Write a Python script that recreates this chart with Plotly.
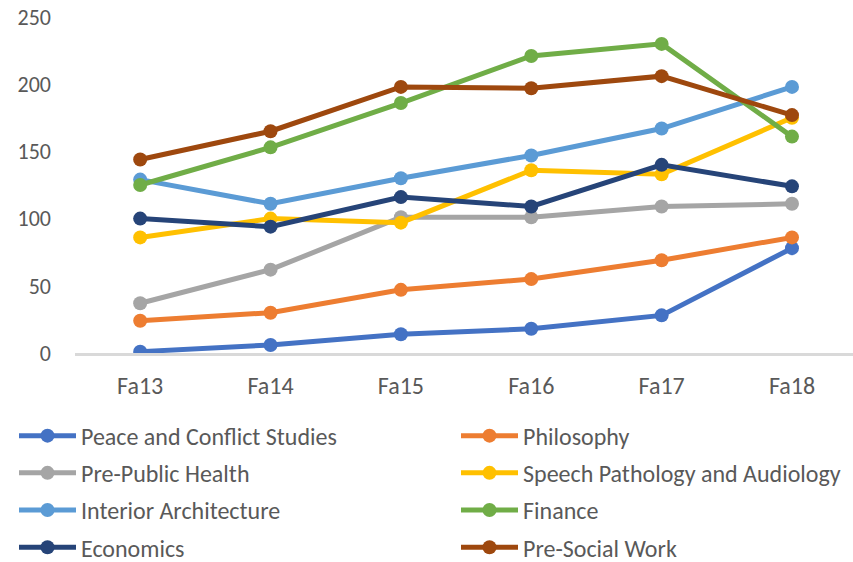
import plotly.graph_objects as go

terms = ["Fa13", "Fa14", "Fa15", "Fa16", "Fa17", "Fa18"]

peace = [1, 6, 14, 18, 28, 78]
philosophy = [24, 30, 47, 55, 69, 86]
pre_public_health = [37, 62, 101, 101, 109, 111]
speech = [86, 100, 97, 136, 133, 175]
interior = [129, 111, 130, 147, 167, 198]
finance = [125, 153, 186, 221, 230, 161]
economics = [100, 94, 116, 109, 140, 124]
pre_social_work = [144, 165, 198, 197, 206, 177]

series = [
    ("Peace and Conflict Studies", peace, "#4472C4", "legend"),
    ("Philosophy", philosophy, "#ED7D31", "legend2"),
    ("Pre-Public Health", pre_public_health, "#A5A5A5", "legend"),
    ("Speech Pathology and Audiology", speech, "#FFC000", "legend2"),
    ("Interior Architecture", interior, "#5B9BD5", "legend"),
    ("Finance", finance, "#70AD47", "legend2"),
    ("Economics", economics, "#264478", "legend"),
    ("Pre-Social Work", pre_social_work, "#9E480E", "legend2"),
]

FONT = "Calibri, Carlito, Lato, sans-serif"
GRAY = "#595959"
FS = 24

fig = go.Figure()
for i, (name, vals, color, lg) in enumerate(series):
    fig.add_trace(go.Scatter(
        x=terms, y=vals, name=name, mode="lines+markers",
        line=dict(color=color, width=5),
        marker=dict(color=color, size=14),
        legend=lg, legendgroup=name,
    ))

L, R, T = 75, 0, 16.6
PH = 336.7
B = 562 - T - PH
PW = 853 - L - R
PB = T + PH

legend_common = dict(
    orientation="v", xanchor="left", yanchor="top",
    font=dict(family=FONT, size=FS, color=GRAY),
    bgcolor="rgba(0,0,0,0)", itemwidth=57, tracegroupgap=3,
    traceorder="grouped",
)

fig.update_layout(
    width=853, height=562,
    margin=dict(l=L, r=R, t=T, b=B, autoexpand=False),
    paper_bgcolor="white", plot_bgcolor="white",
    font=dict(family=FONT, size=FS, color=GRAY),
    showlegend=True,
    legend=dict(x=(14 - L) / PW, y=-(414 - PB) / PH, **legend_common),
    legend2=dict(x=(456 - L) / PW, y=-(414 - PB) / PH, **legend_common),
    xaxis=dict(
        type="category", range=[-0.5, 5.468],
        showgrid=False, showline=True, linecolor="#D9D9D9", linewidth=2.5,
        ticks="", ticklabelstandoff=9, zeroline=False,
        tickfont=dict(family=FONT, size=FS, color=GRAY),
    ),
    yaxis=dict(
        range=[0, 250], tickvals=[0, 50, 100, 150, 200, 250],
        showgrid=False, showline=False, zeroline=False,
        ticks="", ticklabelstandoff=23, ticklabeloverflow="allow",
        tickfont=dict(family=FONT, size=22, color=GRAY),
    ),
)

# remove the default 8px page margin so the 853x562 figure fills the window
fig.write_html(
    "out.html",
    config={"displayModeBar": False},
    post_script="document.body.style.margin='0';",
)
